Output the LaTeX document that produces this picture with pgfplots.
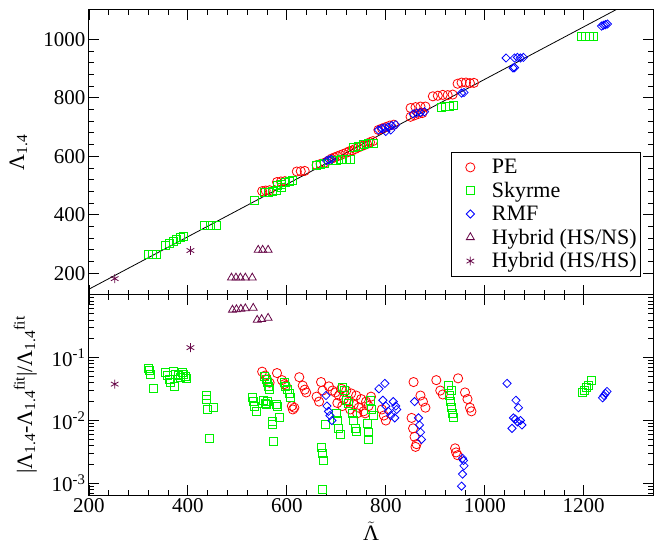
\documentclass[border=0pt]{standalone}
\usepackage{fontspec}
\setmainfont{Liberation Serif}
\usepackage{pgfplots}
\pgfplotsset{compat=1.18}
\usepackage{pgfplotstable}

\definecolor{pecol}{RGB}{255,0,0}
\definecolor{skycol}{RGB}{0,240,0}
\definecolor{rmfcol}{RGB}{0,0,255}
\definecolor{hybcol}{RGB}{103,7,72}

\newcommand\tickfont{\fontsize{21bp}{25bp}\selectfont}
\newcommand\labfont{\fontsize{22bp}{26bp}\selectfont}
\newcommand\Lam{Λ\textsubscript{1.4}}
\newcommand\Lfit{Λ\textsubscript{1.4}\textsuperscript{fit}}

% top panel: Lambda_1.4 vs tilde Lambda
\pgfplotstableread{
x y
550 481
557 483
565 484
580 512
588 514
596 515
620 548
628 549
636 550
660 570
668 574
676 578
684 585
690 592
696 596
702 600
708 604
714 608
720 612
726 617
732 620
738 625
744 630
750 634
756 638
762 642
768 648
774 652
785 690
792 695
800 700
808 705
816 708
850 735
858 740
866 745
874 748
850 765
860 768
870 770
880 770
895 805
905 807
915 810
925 809
935 811
945 848
953 852
962 852
970 850
978 851
}\petop

\pgfplotstableread{
x y
320 266
328 266
336 266
355 296
363 303
370 310
377 317
384 322
392 326
433 362
445 362
457 362
535 450
555 475
562 478
570 480
578 482
590 493
582 500
590 505
598 510
605 515
612 516
660 570
668 572
676 575
692 584
700 586
710 588
720 590
728 590
735 630
745 635
755 640
765 643
775 645
912 768
920 770
928 770
936 772
1195 1008
1203 1008
1211 1008
1219 1008
}\skytop

\pgfplotstableread{
x y
680 585
685 588
690 590
785 690
792 695
798 698
805 700
812 705
820 708
800 685
810 690
855 745
862 748
870 750
878 752
953 816
958 818
1043 936
1060 936
1066 938
1072 936
1078 938
1057 902
1060 903
1236 1045
1240 1048
1244 1050
1248 1052
}\rmftop

\pgfplotstableread{
x y
488 185
497 185
506 185
516 185
530 185
542 280
551 280
562 280
}\hnstop

\pgfplotstableread{
x y
252 182
405 278
}\hhstop

% bottom panel: relative deviation from the fit
\pgfplotstableread{
x y
550 0.060
556 0.052
560 0.045
565 0.040
580 0.057
590 0.044
595 0.038
598 0.036
610 0.017
612 0.015
615 0.016
625 0.049
632 0.036
636 0.031
639 0.028
660 0.024
665 0.020
669 0.041
672 0.030
685 0.035
692 0.030
698 0.028
705 0.025
710 0.032
715 0.022
720 0.030
725 0.020
730 0.027
735 0.018
740 0.025
745 0.016
750 0.022
755 0.014
760 0.020
765 0.017
770 0.024
702 0.019
712 0.017
728 0.015
742 0.013
758 0.013
792 0.015
796 0.012
800 0.010
856 0.041
870 0.025
875 0.020
880 0.016
852 0.011
855 0.0075
858 0.0055
862 0.0042
860 0.0038
902 0.044
910 0.030
915 0.026
946 0.047
940 0.0036
942 0.0031
945 0.0028
960 0.028
965 0.022
970 0.016
973 0.014
}\pebot

\pgfplotstableread{
x y
320 0.068
322 0.062
325 0.055
331 0.032
355 0.058
358 0.052
362 0.045
365 0.040
370 0.060
373 0.035
375 0.055
380 0.052
385 0.048
388 0.058
392 0.055
395 0.050
398 0.046
437 0.025
438 0.022
440 0.015
452 0.016
443 0.0051
530 0.023
532 0.020
535 0.017
538 0.014
553 0.021
556 0.019
560 0.020
558 0.018
555 0.050
558 0.045
560 0.040
563 0.035
565 0.031
570 0.0095
571 0.0085
572 0.0046
578 0.018
580 0.017
585 0.011
595 0.040
598 0.035
602 0.031
605 0.027
608 0.023
669 0.0037
671 0.0030
674 0.0023
671 0.0008
678 0.0087
700 0.013
702 0.010
705 0.0075
708 0.006
712 0.034
716 0.030
720 0.021
725 0.019
732 0.013
735 0.010
738 0.0075
740 0.0068
762 0.0090
764 0.0065
765 0.0049
768 0.021
772 0.015
776 0.012
926 0.036
928 0.025
930 0.020
932 0.016
934 0.013
936 0.011
932 0.030
1198 0.028
1202 0.030
1206 0.033
1210 0.036
1215 0.043
}\skybot

\pgfplotstableread{
x y
679 0.025
681 0.017
684 0.014
687 0.012
691 0.010
786 0.032
798 0.039
794 0.021
800 0.017
805 0.014
810 0.012
815 0.020
820 0.017
822 0.015
818 0.011
858 0.020
866 0.011
868 0.0085
870 0.0065
872 0.0050
955 0.0025
957 0.0023
958 0.0019
955 0.0014
953 0.0009
1045 0.039
1063 0.021
1068 0.016
1058 0.011
1062 0.0105
1066 0.0095
1072 0.0100
1075 0.0085
1055 0.0075
1238 0.023
1241 0.025
1244 0.027
1247 0.029
}\rmfbot

\pgfplotstableread{
x y
490 0.58
498 0.59
507 0.60
516 0.61
532 0.62
540 0.40
549 0.41
562 0.43
}\hnsbot

\pgfplotstableread{
x y
252 0.038
405 0.145
}\hhsbot

\pgfplotsset{
  panel/.style={
    width=564bp, scale only axis,
    xmin=200, xmax=1340,
    xtick={200,400,...,1200}, minor x tick num=4,
    tick align=inside,
    major tick length=10bp, minor tick length=5bp,
    axis line style={line width=1bp},
    every tick/.style={black, line width=0.9bp},
    tick label style={font=\tickfont},
    /pgf/number format/assume math mode=true,
    /pgf/number format/1000 sep={},
  },
  pestyle/.style={only marks, mark=o, mark size=4.6bp,
    mark options={draw=pecol, fill=none, line width=0.8bp}},
  skystyle/.style={only marks, mark=square, mark size=4bp,
    mark options={draw=skycol, fill=none, line width=1bp}},
  rmfstyle/.style={only marks, mark=square, mark size=2.9bp,
    mark options={draw=rmfcol, fill=none, rotate=45, line width=0.8bp}},
  hnsstyle/.style={only marks, mark=triangle, mark size=4.6bp,
    mark options={draw=hybcol, fill=none, line width=0.8bp}},
  hhsstyle/.style={only marks, mark=asterisk, mark size=4.4bp,
    mark options={draw=hybcol, line width=0.8bp}},
}

\begin{document}
\begin{tikzpicture}
\useasboundingbox (-89bp,-51bp) rectangle (569bp,495bp);

\begin{axis}[panel, at={(0,200bp)}, anchor=south west,
    height=285bp,
    ymin=126, ymax=1100,
    ytick={200,400,...,1000}, minor y tick num=4,
    xticklabels={},
    ylabel={\Lam},
    every axis y label/.style={at={(axis description cs:-0.125,0.5)},
      rotate=90, anchor=center, font=\labfont},
    legend style={at={(axis description cs:0.979,0.502)}, anchor=north east,
      font=\labfont, draw=black, line width=1bp, row sep=3bp,
      inner xsep=2bp, inner ysep=5bp},
    legend image code/.code={%
      \path (0bp,0bp) (35bp,0bp);
      \draw[#1] plot coordinates {(16bp,0bp)};},
    legend cell align=left]
\addplot[black, line width=0.8bp, forget plot] coordinates {(200,146) (1340,1168)};
\addplot[pestyle]  table {\petop};
\addplot[skystyle] table {\skytop};
\addplot[rmfstyle] table {\rmftop};
\addplot[hnsstyle] table {\hnstop};
\addplot[hhsstyle] table {\hhstop};
\legend{PE, Skyrme, RMF, Hybrid (HS/NS), Hybrid (HS/HS)}
\end{axis}

\begin{axis}[panel, at={(0,0)}, anchor=south west,
    height=200bp,
    ymode=log, ymin=6.5e-4, ymax=1,
    ytick={0.001,0.01,0.1},
    yticklabels={10\textsuperscript{-3},10\textsuperscript{-2},10\textsuperscript{-1}},
    minor ytick={7e-4,8e-4,9e-4,2e-3,3e-3,4e-3,5e-3,6e-3,7e-3,8e-3,9e-3,
                 2e-2,3e-2,4e-2,5e-2,6e-2,7e-2,8e-2,9e-2,
                 0.2,0.3,0.4,0.5,0.6,0.7,0.8,0.9},
    xlabel={\ensuremath{\tilde{\mbox{Λ}}}},
    every axis x label/.style={at={(axis description cs:0.5,0)},
      anchor=north, yshift=-23bp, font=\labfont},
    ylabel={|\Lam-\Lfit|/\Lfit},
    every axis y label/.style={at={(axis description cs:-0.113,0.5)},
      rotate=90, anchor=center, font=\labfont}]
\addplot[pestyle]  table {\pebot};
\addplot[skystyle] table {\skybot};
\addplot[rmfstyle] table {\rmfbot};
\addplot[hnsstyle] table {\hnsbot};
\addplot[hhsstyle] table {\hhsbot};
\end{axis}
\end{tikzpicture}
\end{document}
